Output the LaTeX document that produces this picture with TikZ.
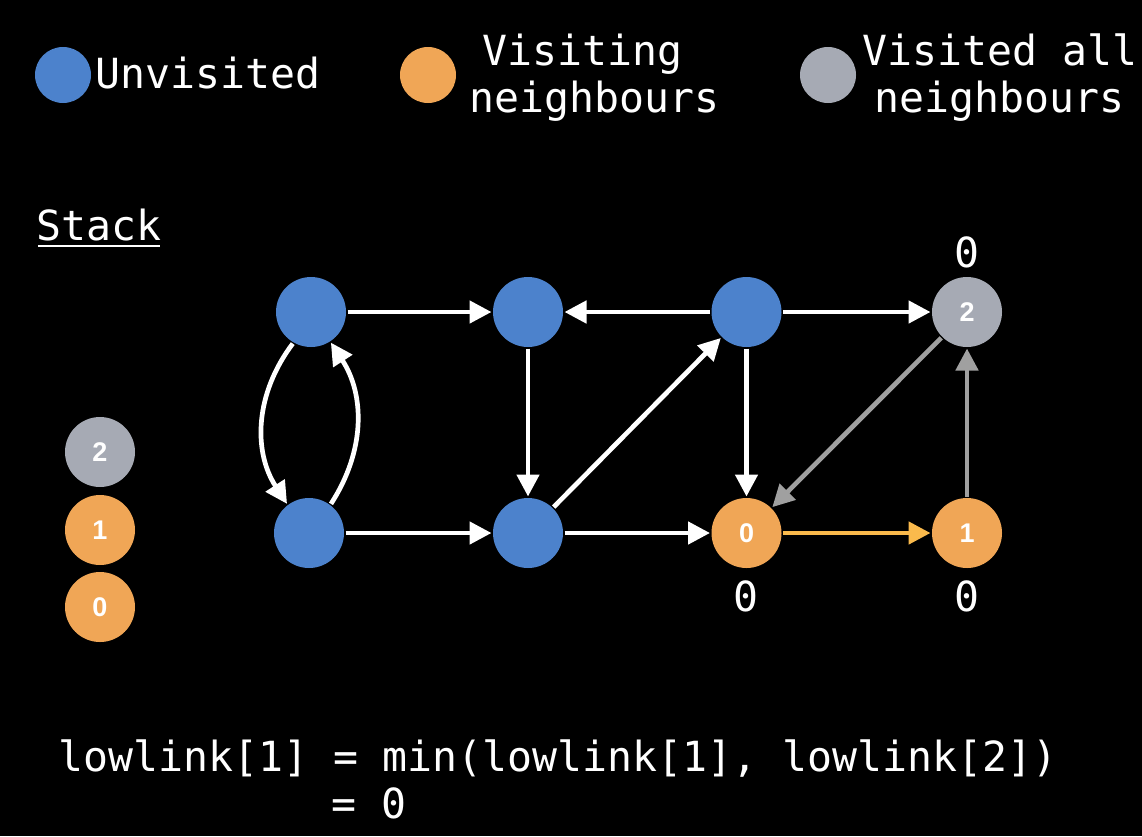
\documentclass[tikz,border=0pt]{standalone}
\usepackage{fontspec}
\setmonofont{DejaVu Sans Mono}
\newfontfamily\numfont{Liberation Sans}
\usetikzlibrary{arrows.meta}
\definecolor{cblue}{RGB}{76,130,204}
\definecolor{corange}{RGB}{240,166,86}
\definecolor{cgreynode}{RGB}{166,170,180}
\definecolor{cgreyedge}{RGB}{160,160,160}
\definecolor{cyellow}{RGB}{250,186,76}
\tikzset{
  vert/.style={circle,minimum size=70pt,inner sep=0pt,outer sep=1.5pt,text=white,
    font=\numfont\bfseries\fontsize{27}{27}\selectfont},
  legdot/.style={circle,minimum size=56pt,inner sep=0pt},
  mono/.style={text=white,inner sep=0pt,font=\ttfamily\fontsize{41.5}{47}\selectfont},
  edge/.style={line width=4.7pt,white,-{Triangle[length=22pt,width=22pt]}},
}
\begin{document}
\begin{tikzpicture}[x=1pt,y=-1pt]
\fill[black] (0,0) rectangle (1142,836);
\useasboundingbox (0,0) rectangle (1142,836);
% legend
\node[legdot,fill=cblue] (l1) at (63,75) {};
\node[legdot,fill=corange] (l2) at (428,75) {};
\node[legdot,fill=cgreynode] (l3) at (828,75) {};
\node[mono,anchor=base west] (t1) at (95,88) {Unvisited};
\node[mono,anchor=base west] (t2a) at (482,65) {Visiting};
\node[mono,anchor=base west] (t2b) at (469,112) {neighbours};
\node[mono,anchor=base west] (t3a) at (862,65) {Visited all};
\node[mono,anchor=base west] (t3b) at (874,112) {neighbours};
% stack
\node[mono,anchor=base west] (stack) at (36,240) {Stack};
\draw[white,line width=2pt] ([xshift=2pt,yshift=-6pt]stack.base west) -- ([xshift=-1pt,yshift=-6pt]stack.base east);
\node[vert,fill=cgreynode] (s2) at (100,452) {2};
\node[vert,fill=corange] (s1) at (100,530) {1};
\node[vert,fill=corange] (s0) at (100,607) {0};
% graph nodes
\node[vert,fill=cblue] (A) at (311,312) {};
\node[vert,fill=cblue] (B) at (528,312) {};
\node[vert,fill=cblue] (C) at (746.5,312) {};
\node[vert,fill=cgreynode] (D) at (967,312) {2};
\node[vert,fill=cblue] (E) at (309,533) {};
\node[vert,fill=cblue] (F) at (528,533) {};
\node[vert,fill=corange] (G) at (746.5,533) {0};
\node[vert,fill=corange] (H) at (967,533) {1};
% lowlink labels
\node[mono] (dl) at (967,252) {0};
\node[mono] (gl) at (746,596) {0};
\node[mono] (hl) at (967,596) {0};
% edges
\draw[edge] (A) -- (B);
\draw[edge] (C) -- (B);
\draw[edge] (C) -- (D);
\draw[edge] (A.240) to[bend right=35] (E.127);
\draw[edge] (E.53) to[bend right=33] (A.303);
\draw[edge] (E) -- (F);
\draw[edge] (B) -- (F);
\draw[edge] (F) -- (C);
\draw[edge] (F) -- (G);
\draw[edge] (C) -- (G);
\draw[edge,cgreyedge] (D) -- (G);
\draw[edge,cyellow] (G) -- (H);
\draw[edge,cgreyedge] (H) -- (D);
% formula
\node[mono,anchor=base west] (f1) at (58,771) {lowlink[1] = min(lowlink[1], lowlink[2])};
\node[mono,anchor=base west] (f2) at (331,818) {= 0};
\end{tikzpicture}
\end{document}
